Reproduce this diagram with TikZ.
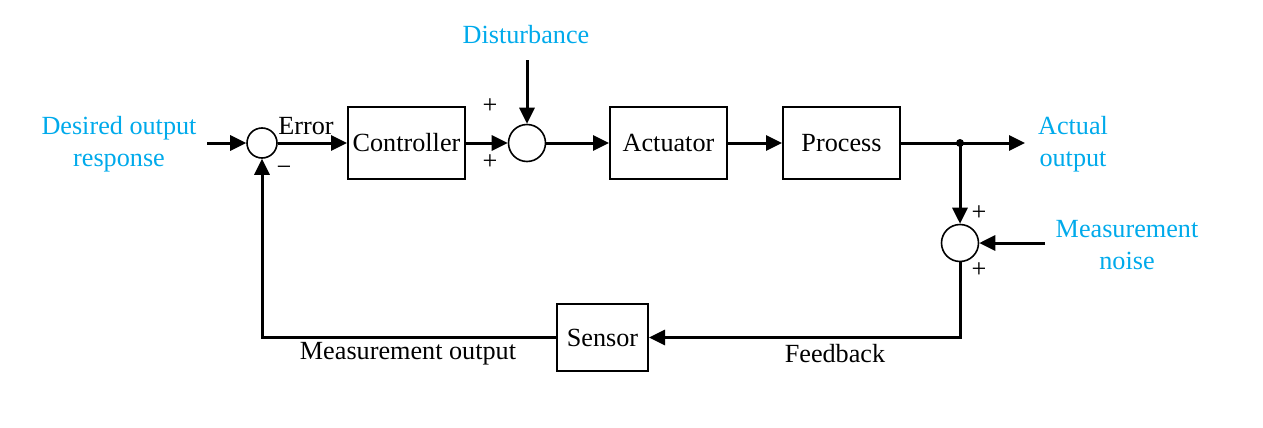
\documentclass[tikz,border=0pt]{standalone}
\usepackage{fontspec}
\setmainfont{Liberation Serif}
\usetikzlibrary{arrows.meta}
\definecolor{lblue}{RGB}{0,170,235}
\tikzset{
  blk/.style={draw,line width=1pt,minimum width=58.5pt,minimum height=36pt,inner sep=0pt},
  sumj/.style={draw,circle,line width=0.8pt,inner sep=0pt},
  sig/.style={line width=1.5pt,-{Triangle[length=8pt,width=7.5pt]}},
  wire/.style={line width=1.5pt},
  lbl/.style={font=\fontsize{13.1}{16}\selectfont,align=center,inner sep=0pt},
  blbl/.style={lbl,text=lblue},
}
\begin{document}
\begin{tikzpicture}[x=0.5pt,y=-0.5pt]
\useasboundingbox (0,0) rectangle (1263,428);
% blocks
\node[blk,lbl] (ctrl) at (406.5,143) {Controller};
\node[blk,lbl] (act) at (668.5,143) {Actuator};
\node[blk,lbl] (proc) at (841.5,143) {Process};
\node[blk,lbl,minimum width=45.5pt,minimum height=33.5pt] (sens) at (602.5,337.5) {Sensor};
% summing junctions
\node[sumj,minimum size=15pt] (s1) at (262,143) {};
\node[sumj,minimum size=18.5pt] (s2) at (527,143) {};
\node[sumj,minimum size=18.5pt] (s3) at (960,243) {};
% coordinates
\coordinate (in) at (207,143);
\coordinate (dist) at (527,60);
\coordinate (br) at (960,143);
\coordinate (out) at (1025,143);
\coordinate (noise) at (1045,243);
\coordinate (fbc) at (960,337.5);
\coordinate (mc) at (262,337.5);
% connectors
\draw[sig] (in) -- (s1.west);
\draw[sig] (s1.east) -- (ctrl.west);
\draw[sig] (ctrl.east) -- (s2.west);
\draw[sig] (dist) -- (s2.north);
\draw[sig] (s2.east) -- (act.west);
\draw[sig] (act.east) -- (proc.west);
\draw[wire] (proc.east) -- (br);
\draw[sig] (br) -- (out);
\draw[sig] (br) -- (s3.north);
\draw[sig] (noise) -- (s3.east);
\draw[sig] (s3.south) -- (fbc) -- (sens.east);
\draw[sig] (sens.west) -- (mc) -- (s1.south);
\fill (br) circle (4);
% labels
\node[blbl] (lin) at (119,144) {Desired output\\response};
\node[blbl] (ldist) at (526,35) {Disturbance};
\node[blbl] (lout) at (1073,144) {Actual\\output};
\node[blbl] (lnoise) at (1127,245) {Measurement\\noise};
\node[lbl] (lerr) at (306,126) {Error};
\node[lbl] (lmo) at (408,354) {Measurement output};
\node[lbl] (lfb) at (835,354) {Feedback};
\node[lbl] (m1) at (284,171) {−};
\node[lbl] (p1) at (490,106) {+};
\node[lbl] (p2) at (490,162) {+};
\node[lbl] (p3) at (979,213) {+};
\node[lbl] (p4) at (979,270) {+};
\end{tikzpicture}
\end{document}
